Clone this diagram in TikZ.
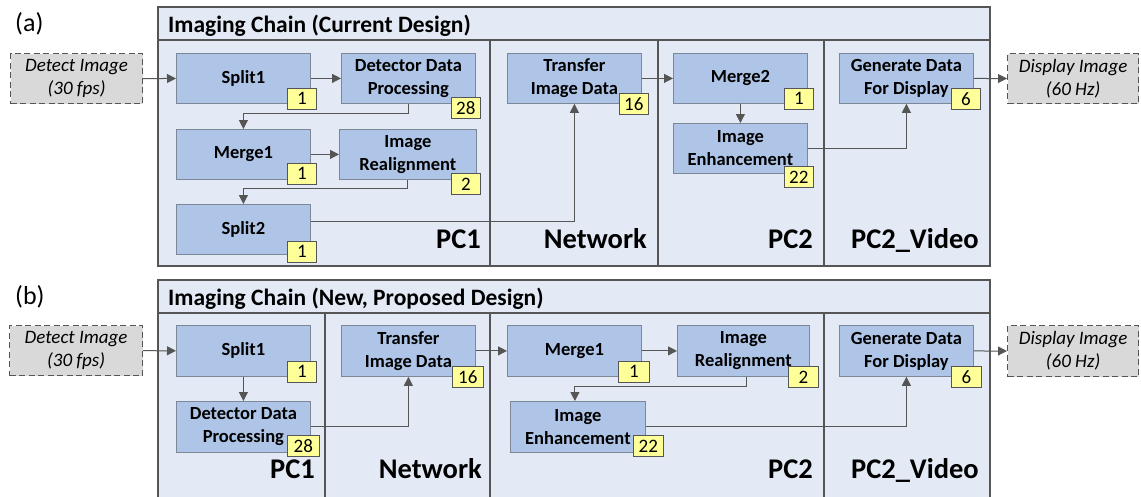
\documentclass[tikz,border=0pt]{standalone}
\usepackage{fontspec}
\setmainfont{Carlito}
\usetikzlibrary{arrows.meta}
\definecolor{panelfill}{HTML}{E3EAF5}
\definecolor{boxfill}{HTML}{AEC5E7}
\definecolor{boxline}{HTML}{7C8898}
\definecolor{frameline}{HTML}{555555}
\definecolor{badgefill}{HTML}{FFFF99}
\definecolor{arrcol}{HTML}{555555}
\definecolor{extfill}{HTML}{D9D9D9}
\tikzset{
  blk/.style={draw=boxline, line width=0.8pt, fill=boxfill, anchor=north west, inner sep=0pt,
    minimum width=134pt, minimum height=50pt, align=center,
    font=\fontsize{18.5}{23}\selectfont\bfseries},
  badge/.style={draw=frameline, line width=0.7pt, fill=badgefill, anchor=north west, inner sep=0pt,
    minimum width=29pt, minimum height=21pt, font=\fontsize{19}{19}\selectfont},
  ext/.style={draw=frameline, dashed, dash pattern=on 6pt off 3.5pt, line width=1.2pt, fill=extfill,
    anchor=north west, inner sep=0pt, minimum width=132pt, minimum height=50pt, align=center,
    font=\fontsize{19}{23}\selectfont\itshape},
  panel/.style={draw=frameline, line width=1.3pt, fill=panelfill},
  divider/.style={draw=frameline, line width=1.3pt},
  coltitle/.style={anchor=base east, inner sep=0pt, font=\fontsize{28.5}{28.5}\selectfont\bfseries},
  pantitle/.style={anchor=base west, inner sep=0pt, font=\fontsize{23.5}{23.5}\selectfont\bfseries},
  sublabel/.style={anchor=base west, inner sep=0pt, font=\fontsize{26}{26}\selectfont},
  arr/.style={draw=arrcol, line width=1pt, -{Triangle[length=9pt, width=9pt]}},
}
\begin{document}
\begin{tikzpicture}[x=1pt, y=-1pt]
\useasboundingbox (0,0) rectangle (1141,496);
% ---------------- panel (a) ----------------
\node[sublabel] (la) at (15,31) {(a)};
\path[panel] (158,7) rectangle (990,266);
\draw[divider] (158,40) -- (990,40);
\draw[divider] (490,40) -- (490,266);
\draw[divider] (658,40) -- (658,266);
\draw[divider] (824,40) -- (824,266);
\node[pantitle] (ta) at (168,32) {Imaging Chain (Current Design)};
\node[coltitle] (pc1a) at (481,248) {PC1};
\node[coltitle] (neta) at (647,248) {Network};
\node[coltitle] (pc2a) at (813,248) {PC2};
\node[coltitle] (pcva) at (979,248) {PC2\_Video};

\node[ext] (deta) at (10,53) {Detect Image\\(30 fps)};
\node[blk] (s1a) at (176,53) {Split1};
\node[blk] (ddpa) at (341,53) {Detector Data\\Processing};
\node[blk] (m1a) at (176,129) {Merge1};
\node[blk, minimum width=137pt] (ra) at (339,129) {Image\\Realignment};
\node[blk] (s2a) at (176,204) {Split2};
\node[blk] (tra) at (507,53) {Transfer\\Image Data};
\node[blk] (m2a) at (673,53) {Merge2};
\node[blk] (enha) at (673,123) {Image\\Enhancement};
\node[blk] (gena) at (839,53) {Generate Data\\For Display};
\node[ext, minimum width=131pt] (dispa) at (1007,53) {Display Image\\(60 Hz)};

\node[badge] (bs1a) at (287,88) {1};
\node[badge] (bddpa) at (451,97) {28};
\node[badge] (bm1a) at (287,163) {1};
\node[badge] (bra) at (451,173) {2};
\node[badge] (bs2a) at (287,241) {1};
\node[badge] (btra) at (619,93) {16};
\node[badge] (bm2a) at (784,88) {1};
\node[badge] (benha) at (784,166) {22};
\node[badge] (bgena) at (951,88) {6};

\draw[arr] (deta) -- (s1a);
\draw[arr] (s1a) -- (ddpa);
\draw[arr] (ddpa.south) -- ++(0,10) -| (m1a.north);
\draw[arr] (m1a) -- (ra);
\draw[arr] (ra.south) -- ++(0,9) -| (s2a.north);
\draw[arr] ([yshift=8pt]s2a.east) -| (tra.south);
\draw[arr] (tra) -- (m2a);
\draw[arr] (m2a) -- (enha);
\draw[arr] (enha.east) -| (gena.south);
\draw[arr] (gena) -- (dispa);

% ---------------- panel (b) ----------------
\node[sublabel] (lb) at (15,304) {(b)};
\path[panel] (158,280) rectangle (990,505);
\draw[divider] (158,313) -- (990,313);
\draw[divider] (325,313) -- (325,505);
\draw[divider] (490,313) -- (490,505);
\draw[divider] (824,313) -- (824,505);
\node[pantitle] (tb) at (168,305) {Imaging Chain (New, Proposed Design)};
\node[coltitle] (pc1b) at (315,478) {PC1};
\node[coltitle] (netb) at (482,478) {Network};
\node[coltitle] (pc2b) at (813,478) {PC2};
\node[coltitle] (pcvb) at (979,478) {PC2\_Video};

\node[ext, minimum width=133pt] (detb) at (9,325) {Detect Image\\(30 fps)};
\node[blk, minimum height=51pt] (s1b) at (176,325) {Split1};
\node[blk, minimum height=51pt] (ddpb) at (176,401) {Detector Data\\Processing};
\node[blk, minimum height=51pt] (trb) at (341,325) {Transfer\\Image Data};
\node[blk, minimum height=51pt] (m1b) at (507,325) {Merge1};
\node[blk, minimum height=51pt, minimum width=132pt] (rb) at (677,325) {Image\\Realignment};
\node[blk, minimum height=51pt, minimum width=135pt] (enhb) at (510,401) {Image\\Enhancement};
\node[blk, minimum height=51pt] (genb) at (839,325) {Generate Data\\For Display};
\node[ext, minimum width=131pt, minimum height=51pt] (dispb) at (1007,325) {Display Image\\(60 Hz)};

\node[badge] (bs1b) at (287,361) {1};
\node[badge, minimum width=32pt] (bddpb) at (287,435) {28};
\node[badge, minimum width=31pt] (btrb) at (452,366) {16};
\node[badge, minimum width=31pt] (bm1b) at (618,361) {1};
\node[badge, minimum width=30pt] (brb) at (788,366) {2};
\node[badge, minimum width=30pt] (benhb) at (633,435) {22};
\node[badge, minimum width=30pt] (bgenb) at (951,366) {6};

\draw[arr] (detb) -- (s1b);
\draw[arr] (s1b) -- (ddpb);
\draw[arr] (ddpb.east) -| (trb.south);
\draw[arr] (trb) -- (m1b);
\draw[arr] (m1b) -- (rb);
\draw[arr] ([xshift=3pt]rb.south) -- ++(0,10) -| ([xshift=-3pt]enhb.north);
\draw[arr] (enhb.east) -| (genb.south);
\draw[arr] (genb) -- (dispb);
\end{tikzpicture}
\end{document}
